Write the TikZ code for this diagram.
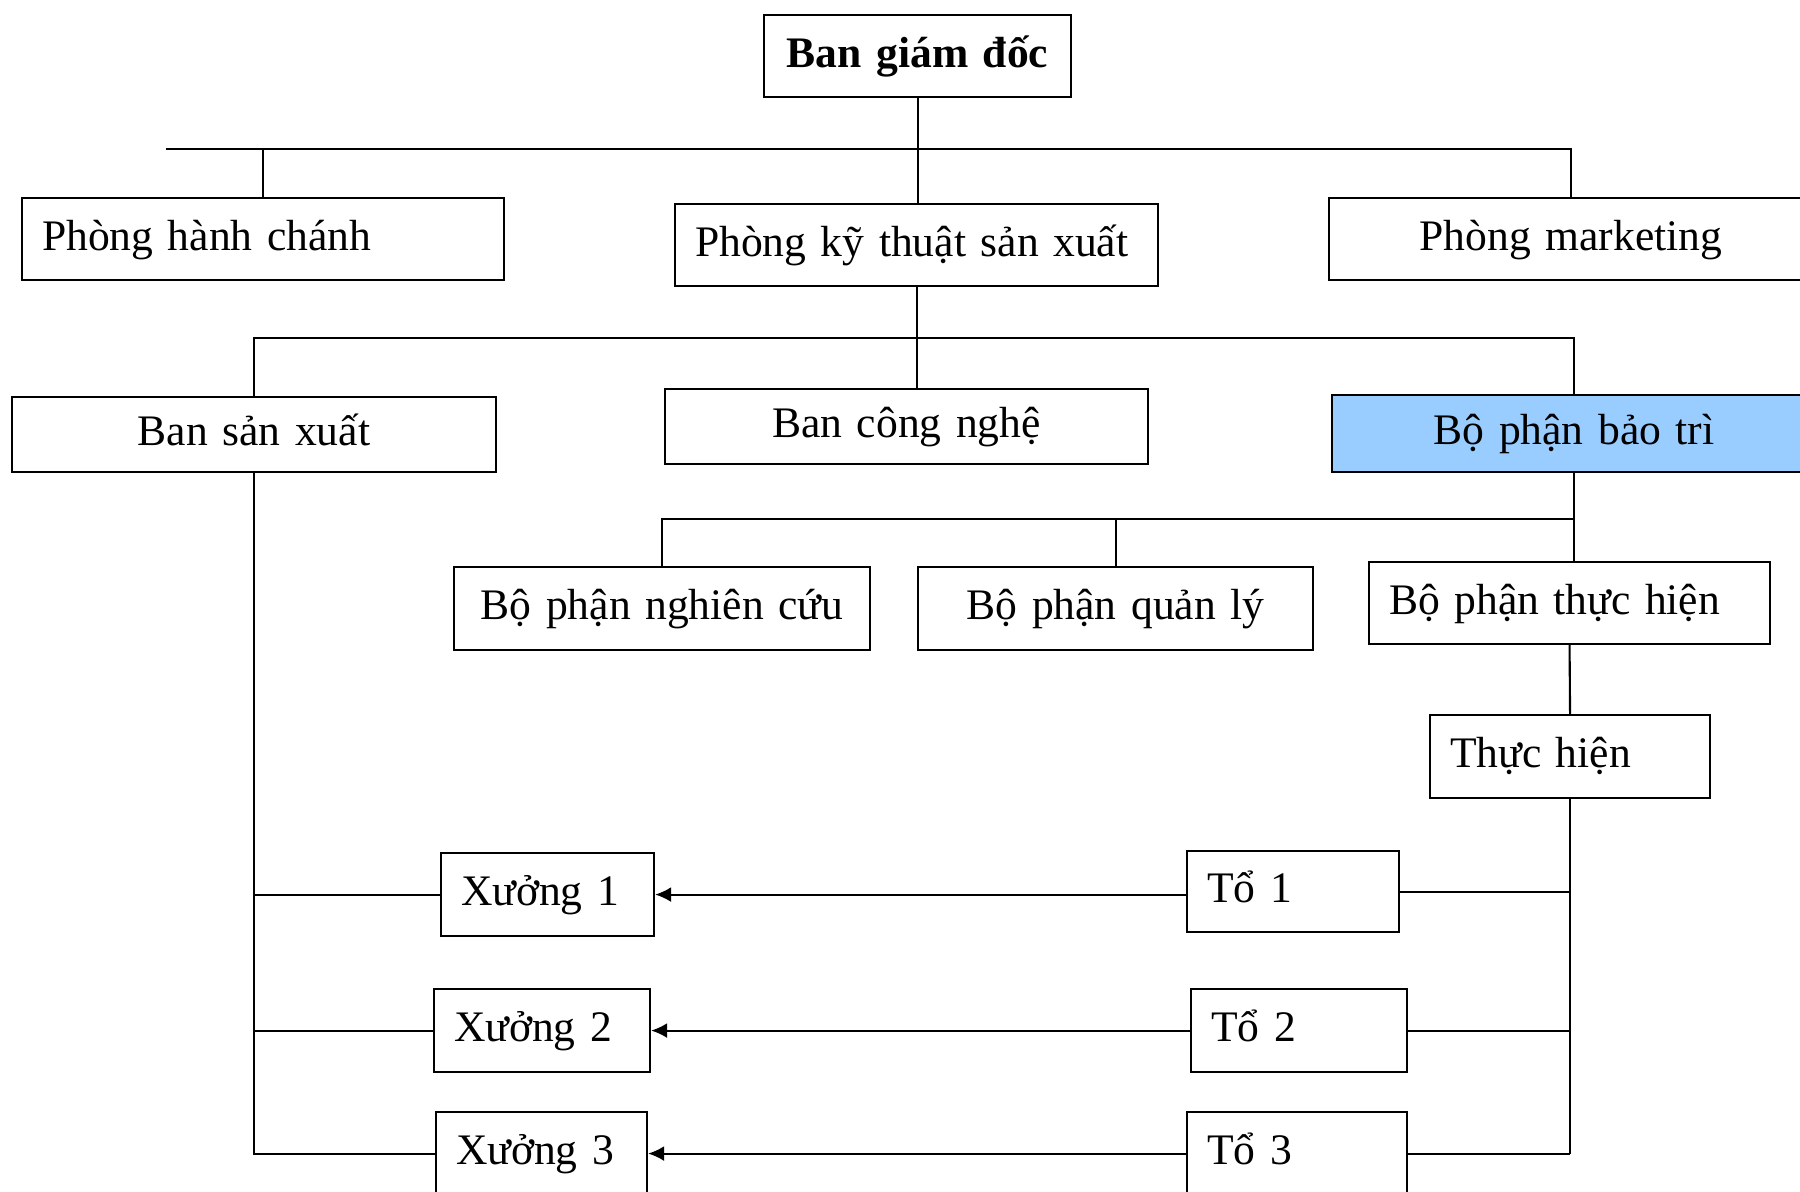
\documentclass[tikz,border=0pt]{standalone}
\usepackage{fontspec}
\setmainfont{Liberation Serif}
\usetikzlibrary{arrows.meta}
\definecolor{baotri}{RGB}{153,204,255}

\begin{document}
\begin{tikzpicture}[
    x=0.1mm, y=-0.1mm,
    line width=0.6pt,
    orgbox/.style={
        draw,
        fill=white,
        anchor=north west,
        inner xsep=2mm,
        inner ysep=0pt,
        text height=3.4mm,
        text depth=1.2mm,
        font=\fontsize{12.4}{15}\selectfont
    },
    leftbox/.style={orgbox, align=left},
    midbox/.style={orgbox, align=center},
    link/.style={-{Latex[length=1.6mm,width=1.5mm]}}
]
\useasboundingbox (0,0) rectangle (1800,1191);
\clip (0,0) rectangle (1800,1191);

% ---------- top: board of directors ----------
\node[midbox, text width=26.7mm, minimum height=8.2mm, font=\fontsize{12.4}{15}\selectfont\bfseries] (bgd) at (763,14) {Ban giám đốc};

% ---------- level 1: departments ----------
\node[leftbox, text width=44.2mm, minimum height=8.2mm] (phc) at (21,197) {Phòng hành chánh};
\node[leftbox, text width=44.3mm, minimum height=8.2mm] (pkt) at (674,203) {Phòng kỹ thuật sản xuất};
\node[midbox, text width=44.4mm, minimum height=8.2mm] (pmk) at (1328,197) {Phòng marketing};

\coordinate (busA) at (166,149);
\draw (bgd.south) -- (bgd.south |- pkt.north);
\draw (busA) -| (pmk.north);
\draw (phc.north) -- (phc.north |- busA);

% ---------- level 2 ----------
\node[midbox, text width=44.4mm, minimum height=7.5mm] (bsx) at (11,396) {Ban sản xuất};
\node[midbox, text width=44.3mm, minimum height=7.5mm] (bcn) at (664,388) {Ban công nghệ};
\node[midbox, text width=44.4mm, minimum height=7.7mm, fill=baotri] (bpbt) at (1331,394) {Bộ phận bảo trì};

\coordinate (busB) at (0,338);
\draw (pkt.south) -- (pkt.south |- bcn.north);
\draw (bsx.north) -- (bsx.north |- busB) -| (bpbt.north);

% ---------- level 3: maintenance ----------
\node[midbox, text width=37.6mm, minimum height=8.3mm] (bpnc) at (453,566) {Bộ phận nghiên cứu};
\node[midbox, text width=35.5mm, minimum height=8.3mm] (bpql) at (917,566) {Bộ phận quản lý};
\node[leftbox, text width=36.1mm, minimum height=8.2mm] (bpth) at (1368,561) {Bộ phận thực hiện};
\node[leftbox, text width=24.0mm, minimum height=8.3mm] (th) at (1429,714) {Thực hiện};

\coordinate (busC) at (0,519);
\draw (bpbt.south) -- (bpbt.south |- bpth.north);
\draw (bpnc.north) -- (bpnc.north |- busC) -- (busC -| bpbt.south);
\draw (bpql.north) -- (bpql.north |- busC);
\draw (bpth.south) -- (th.north);

% ---------- teams and workshops ----------
\node[leftbox, text width=17.2mm, minimum height=8.1mm] (to1) at (1186,850) {Tổ 1};
\node[leftbox, text width=17.6mm, minimum height=8.3mm] (to2) at (1190,988) {Tổ 2};
\node[leftbox, text width=18.0mm, minimum height=8.3mm] (to3) at (1186,1111) {Tổ 3};

\node[leftbox, text width=17.3mm, minimum height=8.3mm] (xuong1) at (440,852) {Xưởng 1};
\node[leftbox, text width=17.6mm, minimum height=8.3mm] (xuong2) at (433,988) {Xưởng 2};
\node[leftbox, text width=17.1mm, minimum height=8.3mm] (xuong3) at (435,1111) {Xưởng 3};

% right spine from Thuc hien, left spine from Ban san xuat
\draw (th.south) -- (th.south |- to3.east);
\draw (bsx.south) -- (bsx.south |- xuong3.west) -- (xuong3.west);
\foreach \i in {1,2,3}{
    \draw (to\i.east) -- (to\i.east -| th.south);
    \draw[link] (to\i.west |- xuong\i.east) -- (xuong\i.east);
}
\foreach \i in {1,2}{
    \draw (xuong\i.west) -- (xuong\i.west -| bsx.south);
}

\end{tikzpicture}
\end{document}
